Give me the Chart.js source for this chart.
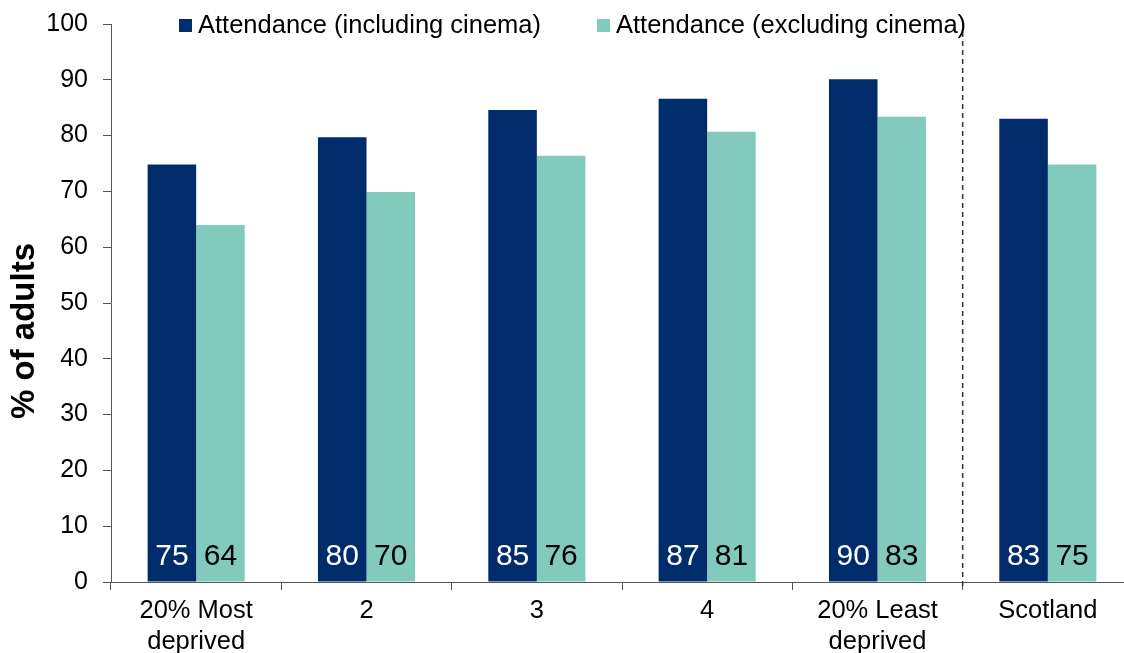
<!DOCTYPE html>
<html>
<head>
<meta charset="utf-8">
<title>Attendance by deprivation</title>
<script src="https://cdn.jsdelivr.net/npm/chart.js@4/dist/chart.umd.min.js"></script>
<style>
  html, body { margin: 0; padding: 0; background: #fff; overflow: hidden; }
  #wrap { width: 1124px; height: 653px; overflow: hidden; }
  #box { width: 1140px; height: 670px; }
</style>
</head>
<body>
<div id="wrap"><div id="box"><canvas id="myChart"></canvas></div></div>
<script>
'use strict';

let areas = [['20% Most', 'deprived'], '2', '3', '4', ['20% Least', 'deprived'], 'Scotland'];
let inclCinema = [74.8, 79.7, 84.6, 86.6, 90.1, 83.0];
let exclCinema = [64.0, 69.9, 76.4, 80.7, 83.4, 74.8];
let seriesNames = ['Attendance (including cinema)', 'Attendance (excluding cinema)'];
let yTicks = [0, 10, 20, 30, 40, 50, 60, 70, 80, 90, 100];

const navy = '#002C6B';
const mint = '#82CBBC';
const fontName = '"Liberation Sans", Arial, sans-serif';

// legend, value labels, y title and the Scotland divider are drawn by hand
const extras = {
  id: 'extras',
  afterDatasetsDraw(chart) {
    let ctx = chart.ctx;
    let area = chart.chartArea;
    let x = chart.scales.x;

    // dashed divider before the national figure
    let divX = (x.getPixelForValue(4) + x.getPixelForValue(5)) / 2;
    ctx.save();
    ctx.strokeStyle = '#333';
    ctx.lineWidth = 1.5;
    ctx.setLineDash([5, 4]);
    ctx.beginPath();
    ctx.moveTo(divX, 32);
    ctx.lineTo(divX, area.bottom + 8);
    ctx.stroke();
    ctx.restore();

    // values written at the foot of each bar
    ctx.save();
    ctx.font = '30px ' + fontName;
    ctx.textAlign = 'center';
    ctx.textBaseline = 'middle';
    chart.data.datasets.forEach((ds, d) => {
      let meta = chart.getDatasetMeta(d);
      ctx.fillStyle = d === 0 ? '#fff' : '#000';
      meta.data.forEach((bar, i) => {
        ctx.fillText(String(Math.round(ds.data[i])), bar.x, area.bottom - 25);
      });
    });
    ctx.restore();

    // legend
    let legendX = [179, 597];
    ctx.save();
    ctx.font = '25.5px ' + fontName;
    ctx.textBaseline = 'middle';
    chart.data.datasets.forEach((ds, d) => {
      ctx.fillStyle = ds.backgroundColor;
      ctx.fillRect(legendX[d], 19, 13, 13);
      ctx.fillStyle = '#000';
      ctx.fillText(ds.label, legendX[d] + 19, 26);
    });
    ctx.restore();

    // y axis title
    ctx.save();
    ctx.translate(25, 331);
    ctx.rotate(-Math.PI / 2);
    ctx.font = 'bold 33px ' + fontName;
    ctx.fillStyle = '#000';
    ctx.textAlign = 'center';
    ctx.textBaseline = 'middle';
    ctx.fillText('% of adults', 0, 0);
    ctx.restore();
  }
};

let canvasChart = document.getElementById('myChart');

const data = {
  labels: areas,
  datasets: [{
    label: seriesNames[0],
    data: inclCinema,
    backgroundColor: navy
  },
  {
    label: seriesNames[1],
    data: exclCinema,
    backgroundColor: mint
  }]
};

const config = {
  type: 'bar',
  data: data,
  options: {
    responsive: true,
    maintainAspectRatio: false,
    animation: false,
    categoryPercentage: 0.57,
    barPercentage: 1.0,
    layout: {
      padding: { top: 24, right: 7, left: 0, bottom: 0 }
    },
    plugins: {
      legend: { display: false },
      tooltip: { enabled: false }
    },
    scales: {
      x: {
        afterFit: (scale) => {
          scale.height = 88;
          scale.paddingLeft = 0;
          scale.paddingRight = 0;
        },
        grid: {
          offset: true,
          drawOnChartArea: false,
          drawTicks: true,
          tickLength: 8,
          color: '#555'
        },
        border: { display: true, color: '#555', width: 1 },
        ticks: {
          color: '#000',
          padding: 6,
          maxRotation: 0,
          autoSkip: false,
          font: { family: fontName, size: 25.5, lineHeight: 1.2 }
        }
      },
      y: {
        min: 0,
        max: 100,
        afterFit: (scale) => {
          scale.width = 111;
          scale.paddingTop = 0;
          scale.paddingBottom = 0;
        },
        afterBuildTicks: (scale) => {
          scale.ticks = yTicks.map((v) => ({ value: v }));
        },
        grid: {
          drawOnChartArea: false,
          drawTicks: true,
          tickLength: 8,
          color: '#555'
        },
        border: { display: true, color: '#555', width: 1 },
        ticks: {
          color: '#000',
          padding: 15,
          font: { family: fontName, size: 25 }
        }
      }
    }
  },
  plugins: [extras]
};

// eslint-disable-next-line no-unused-vars, no-undef
const myChart = new Chart(canvasChart, config);
</script>
</body>
</html>
